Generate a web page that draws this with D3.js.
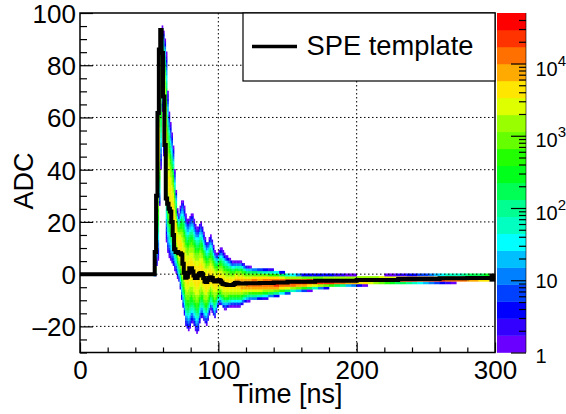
<!DOCTYPE html>
<html>
<head>
<meta charset="utf-8">
<script src="https://cdn.jsdelivr.net/npm/d3@7"></script>
<style>
  body { margin: 0; background: #fff; }
  text { font-family: "Liberation Sans", Arial, sans-serif; fill: #000; }
</style>
</head>
<body>
<div id="chart"></div>
<script>
// SPE template, step values starting at each time
var templateT = [0,54,55,56,57,58,59,60,61,62,63,64,65,66,67,68,69,71,73,74,75,76,77,78,79,81,82,83,85,86,87,88,89,90,91,92,93,94,95,96,97,99,100,101,102,103,104,105,106,111,112,113,114,115,120,130,140,150,170,200,230,260,280,300];
var templateV = [0,8.5,30,61.7,86,93.5,84.7,68,49.5,29,27,25,24,20,15,9.5,8.5,8,7.5,4,0.5,-1.4,-1,0.5,2.3,1,-0.5,-1.5,-0.5,0.2,0.4,0,-1.5,-2.8,-3,-2.2,-1.5,-1.2,-1.5,-2.3,-2.8,-2.4,-2.2,-2.5,-3.2,-3.8,-3.9,-4,-4.2,-3.8,-3.4,-3.3,-3.5,-3.6,-3.5,-3.4,-3.2,-2.9,-2.5,-2.2,-1.9,-1.6,-1.5,-1.5];

var heatT = [53,54,55,56,57,58,59,60,61,62,63,64,65,66,67,68,69,70,71,72,73,74,75,76,77,78,79,80,81,82,83,84,85,86,87,88,89,90,91,92,93,94,95,96,97,98,99,100,101,102,103,104,105,106,107,108,109,110,111,112,113,114,115,116,117,118,119,120,121,122,123,
  124,128,132,136,140,144,148,152,156,160,164,168,172,176,180,184,188,192,196,200,204,208,212,216,220,224,228,232,236,240,244,248,252,256,260,264,268,272,276,280,284,288,292,296,300];
var heatHi = [1.5,12,40,68,72,93,95,93,90,85,70,62,58,54,49,40,32,25,23,26,28,28.5,26,23,21,21,22,23.4,23.4,21,19,18,18,19.5,19.8,18.5,16,14,12.5,12.5,14,15,13.5,11,9,8,8,9,10,10,9,8,7.3,6.8,6.5,6,5.5,5,5,5,5,5,5,5,4.5,4,3.5,3,3,2.8,2.8,
  2.7,2.4,2.2,2,1.7,1.1,0.75,0.4,0.2,0,-0.03,-0.05,-0.07,-0.08,-0.1,-0.12,-0.15,-0.2,-0.24,-0.3,-0.3,-0.3,-0.3,-0.28,-0.24,-0.2,-0.18,-0.16,-0.14,-0.12,-0.08,-0.04,0.02,0.08,0.12,0.16,0.2,0.24,0.28,0.32,0.36,0.4,0.44,0.48];
var heatLo = [-0.5,-0.8,3,5,26,40,62,45,35,12,8,6,5,4,3,1.5,0.5,-1.5,-3,-6,-10,-13,-16,-20,-21,-22,-21,-19,-18.7,-20,-21.5,-22.8,-22,-19,-17,-16.8,-18,-19,-19.4,-18,-15.5,-13.6,-14.5,-16,-16.8,-15,-13,-11.7,-11.7,-12.2,-13,-13.3,-13.3,-13,-12.8,-12.5,-12.4,-12.3,-12.3,-12.3,-12.3,-12.3,-12.3,-12,-11.5,-11.2,-10.9,-10.6,-10.4,-10.3,-10.2,
  -10.1,-9.8,-9.5,-9.1,-8.7,-8.2,-7.7,-7.2,-6.9,-6.6,-6.3,-5.9,-5.6,-5.4,-5.2,-5,-4.8,-4.6,-4.5,-4.4,-4.3,-4.25,-4.1,-4,-3.9,-3.8,-3.75,-3.7,-3.65,-3.6,-3.55,-3.5,-3.45,-3.4,-3.35,-3.3,-3.26,-3.2,-3.15,-3.1,-3.05,-3,-2.95,-2.9];
var heatMid = [0.3,3,20,40,50,78,85,78,70,50,38,34,30,27,24,20,17,13,11,10,8,5,3,1,0.5,1,2,2,1,0,-1,-1,-0.5,0,0.4,0,-1.5,-2.8,-3,-2.2,-1.5,-1.2,-1.5,-2.3,-2.8,-2.8,-2.4,-2.2,-2.5,-3.2,-3.8,-3.9,-4,-4.2,-4.2,-4.2,-4.2,-4.2,-3.8,-3.4,-3.3,-3.5,-3.6,-3.6,-3.6,-3.6,-3.6,-3.6,-3.6,-3.6,-3.6,
  -3.5,-3.5,-3.4,-3.4,-3.4,-3.3,-3.2,-3.1,-3,-3,-2.9,-2.9,-2.8,-2.7,-2.7,-2.6,-2.6,-2.5,-2.5,-2.4,-2.4,-2.3,-2.3,-2.2,-2.2,-2.2,-2.1,-2.1,-2,-2,-2,-1.9,-1.9,-1.9,-1.9,-1.8,-1.8,-1.8,-1.8,-1.7,-1.7,-1.7,-1.7];
var heatPeak = [2.5,3,3.2,3.5,3.6,3.2,3,3.2,3.3,3.4,3.5,3.6,3.6,3.6,3.6,3.6,3.6,3.6,3.7,3.7,3.7,3.7,3.7,3.7,3.7,3.7,3.7,3.7,3.7,3.7,3.7,3.7,3.7,3.7,3.7,3.7,3.7,3.7,3.7,3.7,3.7,3.7,3.7,3.7,3.7,3.7,3.7,3.7,3.7,3.7,3.7,3.7,3.7,3.7,3.7,3.7,3.7,3.8,3.8,3.9,3.9,3.9,3.9,4,4,4,4,4.1,4.1,4.1,4.1,
  4.2,4.2,4.3,4.3,4.4,4.4,4.4,4.4,4.5,4.5,4.5,4.5,4.6,4.6,4.6,4.6,4.6,4.6,4.6,4.6,4.6,4.6,4.6,4.6,4.6,4.6,4.6,4.6,4.6,4.6,4.6,4.6,4.6,4.6,4.6,4.6,4.6,4.6,4.6,4.6,4.6,4.6,4.6,4.6];

var paletteColors = ["#6a00ff","#3300ff","#0000ff","#0040ff","#0080ff","#00bfff","#00ffff","#00ffc0","#00ff90","#00ff55",
                     "#00ff1a","#22ff00","#66ff00","#99ff00","#ddff00","#ffe600","#ffaa00","#ff7000","#ff3300","#ff0000"];

var xMajor = [0,100,200,300];
var xMinor = [20,40,60,80,120,140,160,180,220,240,260,280];
var yMajor = [-20,0,20,40,60,80,100];
var yMinor = [-30,-25,-15,-10,-5,5,10,15,25,30,35,45,50,55,65,70,75,85,90,95];
var zMajor = [1,10,100,1000,10000];
var zMinor = [2,3,4,5,6,7,8,9,20,30,40,50,60,70,80,90,200,300,400,500,600,700,800,900,2000,3000,4000,5000,6000,7000,8000,9000,20000,30000,40000];

// set the dimensions of the frame
var W = 566, H = 414;
var frame = {left: 80, right: 495, top: 13, bottom: 352.5};
var bar = {left: 497, right: 526};

var svg = d3.select("#chart").append("svg")
    .attr("width", W)
    .attr("height", H)
    .style("display", "block");

var x = d3.scaleLinear().domain([0, 300]).range([frame.left, frame.right]);
var y = d3.scaleLinear().domain([-30, 100]).range([frame.bottom, frame.top]);
var z = d3.scaleLog().domain([1, 50000]).range([frame.bottom, frame.top]);
var color = d3.scaleQuantize().domain([0, Math.log10(50000)]).range(paletteColors);

// profile of log count from the edge of a column to its ridge
var SHAPE = 1.9;
var cells = [];
heatT.slice(0, -1).forEach(function(t, i) {
  for (var n = -25; n <= 96; n++) {
    var c = n - 0.25;
    if (c >= heatHi[i] || c <= heatLo[i]) continue;
    var d = c > heatMid[i]
      ? (heatHi[i] - c) / (heatHi[i] - heatMid[i])
      : (c - heatLo[i]) / (heatMid[i] - heatLo[i]);
    cells.push({t0: t, t1: heatT[i + 1], n: n, logz: heatPeak[i] * (1 - Math.pow(1 - d, SHAPE))});
  }
});

svg.append("g").selectAll("rect")
  .data(cells)
  .join("rect")
    .attr("x", function(d) { return x(d.t0); })
    .attr("width", function(d) { return x(d.t1) - x(d.t0) + 0.3; })
    .attr("y", function(d) { return y(d.n + 0.25); })
    .attr("height", function(d) { return y(d.n - 0.75) - y(d.n + 0.25) + 0.3; })
    .attr("fill", function(d) { return color(d.logz); });

// dotted grid
svg.append("g").selectAll("line")
  .data(yMajor.slice(0, -1))
  .join("line")
    .attr("x1", frame.left).attr("x2", frame.right)
    .attr("y1", function(d) { return y(d); }).attr("y2", function(d) { return y(d); })
    .attr("stroke", "#000").attr("stroke-dasharray", "1.5,2.5");
svg.append("g").selectAll("line")
  .data(xMajor.slice(1, -1))
  .join("line")
    .attr("y1", frame.top).attr("y2", frame.bottom)
    .attr("x1", function(d) { return x(d); }).attr("x2", function(d) { return x(d); })
    .attr("stroke", "#000").attr("stroke-dasharray", "1.5,2.5");

// template line
svg.append("path")
  .datum(d3.zip(templateT, templateV))
  .attr("fill", "none")
  .attr("stroke", "#000")
  .attr("stroke-width", 4)
  .attr("stroke-linejoin", "miter")
  .attr("d", d3.line()
    .x(function(d) { return x(d[0]); })
    .y(function(d) { return y(d[1]); })
    .curve(d3.curveStepAfter));

// axes
function ticksOnly(g) {
  g.select(".domain").remove();
  g.selectAll(".tick line").attr("stroke", "#000").attr("stroke-width", 1.2);
}
var xAxis = svg.append("g")
  .attr("transform", "translate(0," + frame.bottom + ")")
  .call(d3.axisBottom(x).tickValues(xMajor).tickSizeInner(-10).tickPadding(0).tickFormat(d3.format("d")))
  .call(ticksOnly);
xAxis.selectAll("text").attr("font-size", 26).attr("y", 8).attr("dy", "0.71em").style("font-family", "Liberation Sans");
svg.append("g")
  .attr("transform", "translate(0," + frame.bottom + ")")
  .call(d3.axisBottom(x).tickValues(xMinor).tickSizeInner(-5).tickFormat(""))
  .call(ticksOnly);

var yAxis = svg.append("g")
  .attr("transform", "translate(" + frame.left + ",0)")
  .call(d3.axisLeft(y).tickValues(yMajor).tickSizeInner(-13).tickPadding(0)
    .tickFormat(function(d) { return d < 0 ? "\u2013" + (-d) : d; }))
  .call(ticksOnly);
yAxis.selectAll("text").attr("font-size", 26).attr("x", -4).attr("dy", "0.36em").style("font-family", "Liberation Sans");
svg.append("g")
  .attr("transform", "translate(" + frame.left + ",0)")
  .call(d3.axisLeft(y).tickValues(yMinor).tickSizeInner(-7).tickFormat(""))
  .call(ticksOnly);

svg.append("rect")
  .attr("x", frame.left).attr("y", frame.top)
  .attr("width", frame.right - frame.left).attr("height", frame.bottom - frame.top)
  .attr("fill", "none").attr("stroke", "#000").attr("stroke-width", 1.5);

// axis titles
svg.append("text")
  .attr("x", 287.5).attr("y", 403)
  .attr("text-anchor", "middle").attr("font-size", 27)
  .text("Time [ns]");
svg.append("text")
  .attr("transform", "translate(33,181) rotate(-90)")
  .attr("text-anchor", "middle").attr("font-size", 27)
  .text("ADC");

// legend
svg.append("rect")
  .attr("x", 243).attr("y", frame.top)
  .attr("width", frame.right - 243).attr("height", 68)
  .attr("fill", "#fff").attr("stroke", "#000").attr("stroke-width", 1.2);
svg.append("line")
  .attr("x1", 252).attr("x2", 297).attr("y1", 46.5).attr("y2", 46.5)
  .attr("stroke", "#000").attr("stroke-width", 3.5);
svg.append("text")
  .attr("x", 306.5).attr("y", 55).attr("font-size", 27.3)
  .text("SPE template");

// palette
svg.append("g").selectAll("rect")
  .data(paletteColors)
  .join("rect")
    .attr("x", bar.left)
    .attr("width", bar.right - bar.left)
    .attr("y", function(d) { return z(Math.pow(10, color.invertExtent(d)[1])); })
    .attr("height", function(d) {
      var e = color.invertExtent(d);
      return z(Math.pow(10, e[0])) - z(Math.pow(10, e[1])) + 0.3;
    })
    .attr("fill", function(d) { return d; });

svg.append("g")
  .attr("transform", "translate(" + bar.right + ",0)")
  .call(d3.axisRight(z).tickValues(zMajor).tickSizeInner(-15).tickFormat(""))
  .call(ticksOnly);
svg.append("g")
  .attr("transform", "translate(" + bar.right + ",0)")
  .call(d3.axisRight(z).tickValues(zMinor).tickSizeInner(-7).tickFormat(""))
  .call(ticksOnly);
svg.append("line")
  .attr("x1", bar.right).attr("x2", bar.right)
  .attr("y1", frame.top).attr("y2", frame.bottom)
  .attr("stroke", "#000").attr("stroke-opacity", 0.6);

// palette labels: mantissa with raised exponent
var zLabels = svg.append("g").selectAll("text")
  .data(zMajor)
  .join("text")
    .attr("x", 535.5)
    .attr("font-size", 20)
    .attr("y", function(d, i) { return z(d) + [10, 8, 12, 11, 12][i]; });
zLabels.append("tspan").text(function(d) { return d === 1 ? "1" : "10"; });
zLabels.filter(function(d) { return d > 10; })
  .append("tspan")
    .attr("font-size", 15)
    .attr("dy", -10)
    .text(function(d) { return Math.round(Math.log10(d)); });
</script>
</body>
</html>
